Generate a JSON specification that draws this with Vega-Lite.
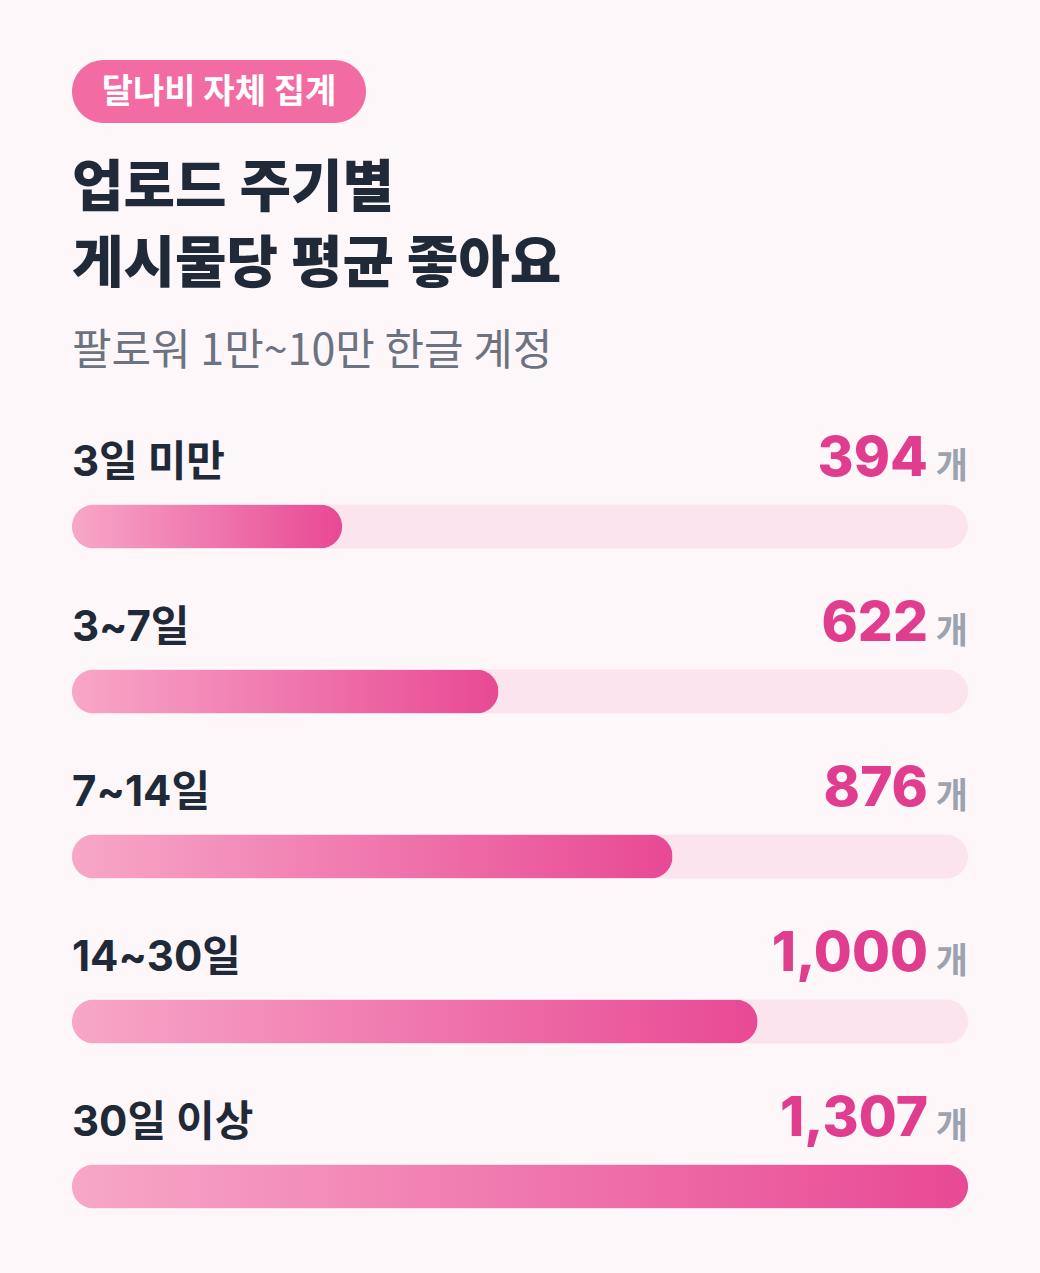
{
  "$schema": "https://vega.github.io/schema/vega-lite/v6.json",
  "background": "#fef7fa",
  "padding": {"left": 72, "right": 72, "top": 60, "bottom": 60},
  "spacing": 37,
  "config": {"view": {"stroke": null}, "font": "Inter, Noto Sans CJK KR"},
  "vconcat": [
    {
      "width": 294,
      "height": 63,
      "data": {"values": [{"badge": "달나비 자체 집계"}]},
      "layer": [
        {"mark": {"type": "rect", "color": "#f26ba2", "cornerRadius": 31.5}, "encoding": {}},
        {"mark": {"type": "text", "color": "#ffffff", "fontSize": 34, "fontWeight": "bold", "font": "Noto Sans CJK KR", "baseline": "middle", "dy": 1}, "encoding": {"text": {"field": "badge"}}}
      ]
    },
    {
      "width": 896,
      "height": {"step": 165},
      "title": {
        "text": ["업로드 주기별", "게시물당 평균 좋아요"],
        "subtitle": "팔로워 1만~10만 한글 계정",
        "anchor": "start",
        "font": "Noto Sans CJK KR",
        "fontSize": 56,
        "fontWeight": 900,
        "color": "#1f2937",
        "lineHeight": 76,
        "subtitleFont": "Noto Sans CJK KR",
        "subtitleFontSize": 43,
        "subtitleFontWeight": "normal",
        "subtitleColor": "#6b7280",
        "subtitlePadding": 37,
        "offset": 57
      },
      "data": {
        "values": [
          {"period": "3일 미만", "likes": 394},
          {"period": "3~7일", "likes": 622},
          {"period": "7~14일", "likes": 876},
          {"period": "14~30일", "likes": 1000},
          {"period": "30일 이상", "likes": 1307}
        ]
      },
      "encoding": {
        "y": {"field": "period", "type": "nominal", "sort": null, "axis": null, "scale": {"paddingInner": 0, "paddingOuter": 0}}
      },
      "layer": [
        {
          "mark": {"type": "bar", "height": 44, "cornerRadius": 22, "color": "#fce4ee"},
          "encoding": {"x": {"datum": 1307, "type": "quantitative", "scale": {"domain": [0, 1307], "nice": false, "zero": true}, "axis": null}}
        },
        {
          "mark": {"type": "bar", "height": 44, "cornerRadius": 22, "color": {"gradient": "linear", "x1": 0, "x2": 1, "y1": 0, "y2": 0, "stops": [{"offset": 0, "color": "#f7a7c7"}, {"offset": 1, "color": "#e84994"}]}},
          "encoding": {"x": {"field": "likes", "type": "quantitative"}}
        },
        {
          "mark": {"type": "text", "align": "left", "baseline": "alphabetic", "dy": -51, "fontSize": 42, "fontWeight": "bold", "color": "#1f2937"},
          "encoding": {"x": {"datum": 0, "type": "quantitative"}, "text": {"field": "period"}}
        },
        {
          "mark": {"type": "text", "align": "right", "baseline": "alphabetic", "dy": -51, "dx": -40, "fontSize": 55, "fontWeight": 800, "font": "Inter", "color": "#e13d8e"},
          "encoding": {"x": {"datum": 1307, "type": "quantitative"}, "text": {"field": "likes", "format": ","}}
        },
        {
          "mark": {"type": "text", "align": "right", "baseline": "alphabetic", "dy": -49, "fontSize": 35, "fontWeight": "bold", "font": "Noto Sans CJK KR", "color": "#9ca3af", "text": "개"},
          "encoding": {"x": {"datum": 1307, "type": "quantitative"}}
        }
      ]
    }
  ]
}
